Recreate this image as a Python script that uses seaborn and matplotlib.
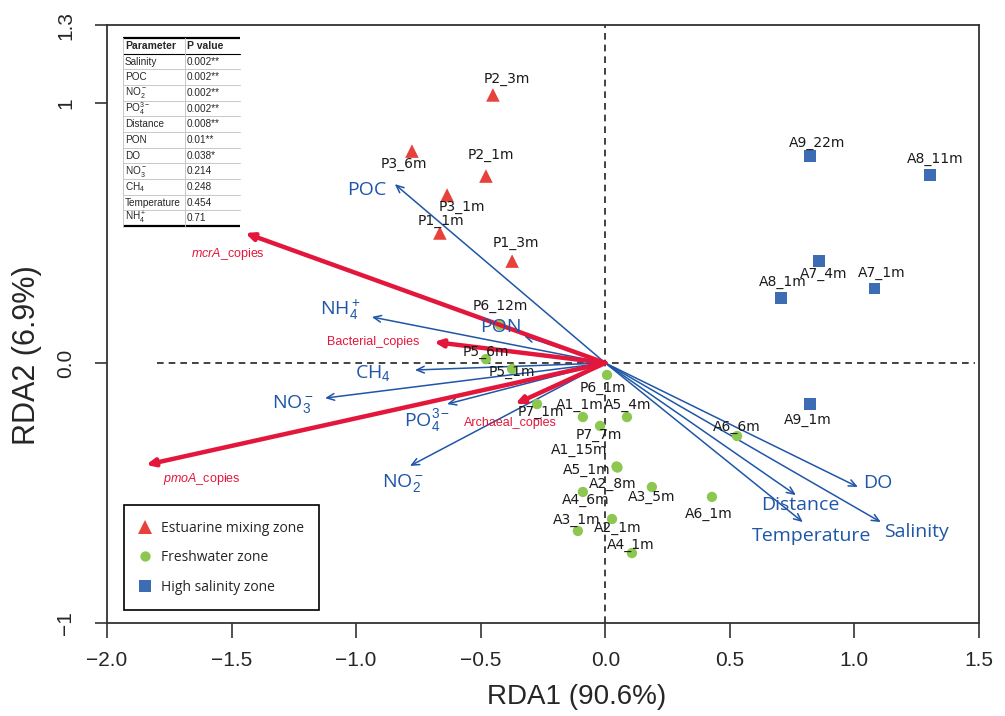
import numpy as np
import pandas as pd
import matplotlib
matplotlib.use("Agg")
import matplotlib.pyplot as plt
import seaborn as sns

# ----- Site scores -----
estuarine_sites = ["P2_3m", "P3_6m", "P2_1m", "P3_1m", "P1_1m", "P1_3m"]
estuarine_x = [-0.451, -0.776, -0.479, -0.635, -0.664, -0.374]
estuarine_y = [1.031, 0.815, 0.719, 0.646, 0.500, 0.392]

fresh_sites = ["P5_6m", "P5_1m", "P6_12m", "P6_1m", "P7_1m", "A1_1m", "A5_4m", "P7_7m",
               "A1_15m", "A5_1m", "A2_8m", "A4_6m", "A3_5m", "A6_6m", "A6_1m",
               "A2_1m", "A3_1m", "A4_1m"]
fresh_x = [-0.479, -0.374, -0.423, 0.007, -0.274, -0.090, 0.087, -0.021,
           0.045, 0.047, 0.049, -0.090, 0.187, 0.529, 0.428,
           0.027, -0.110, 0.107]
fresh_y = [0.015, -0.023, 0.146, -0.046, -0.158, -0.208, -0.208, -0.242,
           -0.398, -0.400, -0.402, -0.496, -0.477, -0.281, -0.515,
           -0.600, -0.646, -0.731]

saline_sites = ["A9_22m", "A8_11m", "A7_4m", "A7_1m", "A8_1m", "A9_1m"]
saline_x = [0.822, 1.303, 0.858, 1.079, 0.705, 0.822]
saline_y = [0.796, 0.723, 0.392, 0.288, 0.250, -0.158]

zones = ["Estuarine mixing zone", "Freshwater zone", "High salinity zone"]

# ----- Environmental vectors -----
env_labels = ["POC", "NH$_4^+$", "PON", "CH$_4$", "NO$_3^-$", "PO$_4^{3-}$", "NO$_2^-$",
              "DO", "Distance", "Temperature", "Salinity"]
env_x = [-0.845, -0.937, -0.326, -0.764, -1.125, -0.635, -0.784, 1.014, 0.765, 0.793, 1.106]
env_y = [0.688, 0.177, 0.104, -0.027, -0.135, -0.158, -0.396, -0.477, -0.508, -0.612, -0.612]

# ----- Gene abundance vectors -----
gene_labels = [r"$\it{mcrA}$_copies", "Bacterial_copies", "Archaeal_copies", r"$\it{pmoA}$_copies"]
gene_x = [-1.446, -0.688, -0.362, -1.844]
gene_y = [0.500, 0.081, -0.158, -0.392]

# ----- Permutation test table -----
table_params = ["Salinity", "POC", "NO$_2^-$", "PO$_4^{3-}$", "Distance", "PON", "DO",
                "NO$_3^-$", "CH$_4$", "Temperature", "NH$_4^+$"]
table_pvals = ["0.002**", "0.002**", "0.002**", "0.002**", "0.008**", "0.01**", "0.038*",
               "0.214", "0.248", "0.454", "0.71"]

x_ticks = [-2.0, -1.5, -1.0, -0.5, 0.0, 0.5, 1.0, 1.5]
x_tick_labels = ["\u22122.0", "\u22121.5", "\u22121.0", "\u22120.5", "0.0", "0.5", "1.0", "1.5"]
y_ticks = [-1, 0, 1, 1.3]
y_tick_labels = ["\u22121", "0.0", "1", "1.3"]

# label offsets in pixels (dx, dy)
site_offsets = {
    "P2_3m": (14, 16), "P3_6m": (-8, -13), "P2_1m": (5, 21), "P3_1m": (15, -12),
    "P1_1m": (1, 12), "P1_3m": (4, 18),
    "A9_22m": (7, 13), "A8_11m": (5, 16), "A7_4m": (5, -13), "A7_1m": (8, 15),
    "A8_1m": (2, 16), "A9_1m": (-2, -16),
    "P5_6m": (0, 7), "P5_1m": (0, -3), "P6_12m": (0, 19), "P6_1m": (-4, -13),
    "P7_1m": (4, -8), "A1_1m": (-3, 12), "A5_4m": (1, 12), "P7_7m": (-1, -9),
    "A1_15m": (-37, 16), "A5_1m": (-30, -3), "A2_8m": (-5, -16), "A4_6m": (3, -8),
    "A3_5m": (0, -10), "A6_6m": (0, 9), "A6_1m": (-3, -17), "A2_1m": (6, -9),
    "A3_1m": (-1, 11), "A4_1m": (-1, 8),
}
env_offsets = [(-28, -6), (-31, 7), (-23, 9), (-42, -3), (-32, -6), (-20, -16), (-7, -17),
               (20, 4), (4, -10), (9, -14), (36, -10)]
gene_offsets = [(-17, -21), (-61, 0), (-5, -19), (56, -14)]

# ----- Style -----
sns.set_theme(style="ticks")
plt.rcParams["font.family"] = ["Liberation Sans", "DejaVu Sans"]
plt.rcParams["mathtext.fontset"] = "custom"
plt.rcParams["mathtext.rm"] = "Liberation Sans"
plt.rcParams["mathtext.it"] = "Liberation Sans:italic"
plt.rcParams["mathtext.bf"] = "Liberation Sans:bold"

zone_colors = {zones[0]: "#E8403B", zones[1]: "#8CC850", zones[2]: "#3C6DB4"}
zone_markers = {zones[0]: "^", zones[1]: "o", zones[2]: "s"}
zone_sizes = {zones[0]: 95, zones[1]: 55, zones[2]: 65}
blue = "#1F56A8"
red = "#E3173C"

df = pd.DataFrame({
    "site": estuarine_sites + fresh_sites + saline_sites,
    "RDA1": estuarine_x + fresh_x + saline_x,
    "RDA2": estuarine_y + fresh_y + saline_y,
    "zone": [zones[0]] * len(estuarine_sites) + [zones[1]] * len(fresh_sites)
            + [zones[2]] * len(saline_sites),
})

fig = plt.figure(figsize=(10.05, 7.16), dpi=100)
ax = fig.add_axes([107 / 1005, 93 / 716, 872 / 1005, 598 / 716])

# reference lines
ax.axhline(0, xmin=0.057, xmax=0.995, color="#222222", ls=(0, (4, 3)), lw=1.2, zorder=1)
ax.axvline(0, color="#222222", ls=(0, (4, 3)), lw=1.2, zorder=1)

# environmental arrows
for lab, x, y, off in zip(env_labels, env_x, env_y, env_offsets):
    ax.annotate("", xy=(x, y), xytext=(0, 0),
                arrowprops=dict(arrowstyle="->,head_length=0.45,head_width=0.2",
                                color=blue, lw=1.1, shrinkA=0, shrinkB=0), zorder=2)
    ax.annotate(lab, (x, y), xytext=off, textcoords="offset pixels", ha="center",
                va="center", color=blue, fontsize=14, family=["Open Sans", "DejaVu Sans"],
                zorder=4)

# sites
sns.scatterplot(data=df, x="RDA1", y="RDA2", hue="zone", style="zone", size="zone",
                palette=zone_colors, markers=zone_markers, sizes=zone_sizes,
                linewidth=0, ax=ax, zorder=3)
for name, x, y in zip(df["site"], df["RDA1"], df["RDA2"]):
    ax.annotate(name, (x, y), xytext=site_offsets[name], textcoords="offset pixels",
                ha="center", va="center", fontsize=10, family="DejaVu Sans",
                color="#1a1a1a", zorder=4)

# gene arrows
for lab, x, y, off in zip(gene_labels, gene_x, gene_y, gene_offsets):
    ax.annotate("", xy=(x, y), xytext=(0, 0),
                arrowprops=dict(arrowstyle="-|>,head_length=0.4,head_width=0.18",
                                color=red, lw=3.2, shrinkA=0, shrinkB=0), zorder=3.5)
    ax.annotate(lab, (x, y), xytext=off, textcoords="offset pixels", ha="center",
                va="center", color=red, fontsize=9, zorder=4)

# legend
handles, labels = ax.get_legend_handles_labels()
keep = [(h, l) for h, l in zip(handles, labels) if l in zones]
ax.legend([h for h, _ in keep], [l for _, l in keep], loc="lower left",
          bbox_to_anchor=(17 / 872, 13 / 598), borderaxespad=0, frameon=True,
          fancybox=False, edgecolor="black", framealpha=1,
          prop={"family": "Open Sans", "size": 10}, labelspacing=1.05,
          borderpad=1.1, handlelength=0.8, handletextpad=0.75, markerscale=1.0)
ax.get_legend().get_frame().set_linewidth(1.2)

# p-value table
def fx(px):
    return (px - 107) / 872

def fy(py):
    return (623 - py) / 598

t_left, t_split, t_right, t_top, t_bot = 123, 185, 240, 38, 226
n_rows = len(table_params) + 1
row_h = (t_bot - t_top) / n_rows
tr = ax.transAxes
for i in range(n_rows + 1):
    yy = t_top + i * row_h
    if i == 0 or i == n_rows:
        ax.plot([fx(t_left), fx(t_right)], [fy(yy), fy(yy)], color="black", lw=1.6,
                transform=tr, zorder=5, solid_capstyle="butt")
    elif i == 1:
        ax.plot([fx(t_left), fx(t_right)], [fy(yy), fy(yy)], color="black", lw=0.8,
                transform=tr, zorder=5)
    else:
        ax.plot([fx(t_left), fx(t_right)], [fy(yy), fy(yy)], color="#c8c8c8", lw=0.7,
                transform=tr, zorder=5)
for xx in (t_left, t_split):
    ax.plot([fx(xx), fx(xx)], [fy(t_top), fy(t_bot)], color="#c8c8c8", lw=0.7,
            transform=tr, zorder=5)
ax.text(fx(t_left + 2), fy(t_top + row_h / 2), "Parameter", transform=tr, ha="left",
        va="center", fontsize=7.5, fontweight="bold", zorder=6)
ax.text(fx(t_split + 2), fy(t_top + row_h / 2), "P value", transform=tr, ha="left",
        va="center", fontsize=7.5, fontweight="bold", zorder=6)
for i, (p, v) in enumerate(zip(table_params, table_pvals)):
    yc = t_top + (i + 1.5) * row_h
    ax.text(fx(t_left + 2), fy(yc), p, transform=tr, ha="left", va="center",
            fontsize=7.2, zorder=6)
    ax.text(fx(t_split + 2), fy(yc), v, transform=tr, ha="left", va="center",
            fontsize=7.2, zorder=6)

# axes
ax.set_xlim(-2.0, 1.5)
ax.set_ylim(-1.0, 1.3)
ax.set_xticks(x_ticks, labels=x_tick_labels)
ax.set_yticks(y_ticks, labels=y_tick_labels)
for lab in ax.get_yticklabels():
    lab.set_rotation(90)
    lab.set_va("center")
ax.tick_params(axis="x", direction="out", length=11, width=1.2, pad=9, labelsize=15,
               color="#333333")
ax.tick_params(axis="y", direction="out", length=9, width=1.2, pad=14, labelsize=15,
               color="#333333")
for s in ax.spines.values():
    s.set_visible(True)
    s.set_color("#333333")
    s.set_linewidth(1.3)
ax.set_xlabel("RDA1 (90.6%)", fontsize=20)
ax.set_ylabel("RDA2 (6.9%)", fontsize=22)
ax.xaxis.set_label_coords(0.538, -0.102)
ax.yaxis.set_label_coords(-0.0745, 0.448)

fig.savefig("out.png", dpi=100)
